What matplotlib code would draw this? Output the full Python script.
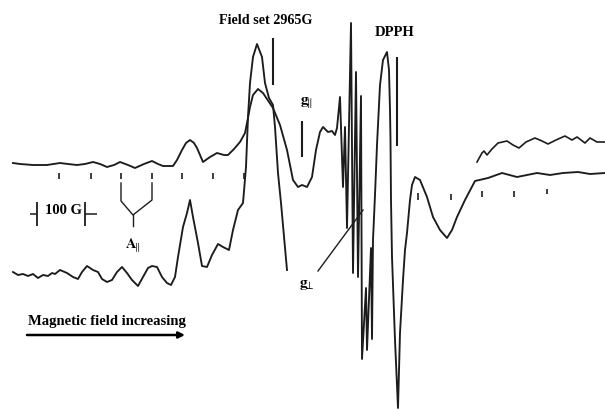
#!/usr/bin/env python3
"""EPR spectrum sketch: two gain traces with hyperfine markers."""
import matplotlib.pyplot as plt

plt.rcParams['font.family'] = 'Liberation Serif'
plt.rcParams['mathtext.fontset'] = 'stix'

INK = '#1c1c1c'

# Low gain trace, whole sweep
low_x = [13, 20, 33, 47, 60, 68, 77, 85, 93, 100, 107, 114, 120, 128, 135, 144, 152, 158, 163, 173,
         177, 182, 186, 190, 194, 197, 203, 210, 217, 224, 228, 234, 240, 245, 248, 250, 253, 258,
         263, 269, 273, 280, 287, 293, 298, 302, 307, 312, 316, 320, 323, 328, 332, 335, 337,
         340, 343, 345, 347, 351, 353, 356, 358, 361, 362, 366, 367, 371, 372, 373, 375, 377, 380, 383,
         387, 389, 390, 390.5, 391, 392, 395, 398, 400, 403, 405, 407, 410, 412, 415, 420, 427, 433, 440, 447, 452,
         457, 465, 475, 488, 502, 517, 537, 550, 563, 578, 590, 605]
low_y = [163, 164, 165, 165, 163, 164, 165, 164, 162, 164, 167, 165, 162, 165, 168, 164, 161, 164, 166, 166,
         160, 150, 143, 140, 143, 148, 162, 157, 153, 155, 155, 149, 142, 133, 118, 107, 95, 89,
         93, 102, 108, 125, 150, 180, 187, 185, 187, 177, 150, 132, 127, 132, 131, 135, 128,
         97, 187, 127, 228, 23, 273, 72, 277, 96, 359, 288, 350, 248, 339, 240, 195, 145, 85, 60,
         52, 70, 110, 140, 200, 257, 340, 408, 333, 280, 250, 233, 200, 185, 177, 180, 197, 217, 230, 238, 230,
         217, 200, 181, 178, 173, 177, 173, 175, 173, 172, 174, 173]

# High gain trace, low field side
high_x = [13, 18, 23, 28, 33, 38, 43, 48, 52, 55, 60, 67, 73, 78, 82, 87, 93, 98, 102, 107, 112, 117,
          122, 127, 132, 138, 143, 148, 152, 157, 162, 167, 171, 175, 178, 183, 187, 190, 193, 198,
          202, 207, 212, 218, 223, 229, 233, 238, 243, 246, 248, 250, 253, 257, 262, 265, 269, 273,
          275, 278, 281, 287]
high_y = [272, 275, 274, 276, 274, 278, 275, 276, 273, 274, 270, 273, 277, 279, 272, 266, 270, 272, 279, 282, 280, 272,
          267, 273, 280, 286, 277, 268, 266, 267, 277, 283, 285, 277, 257, 227, 213, 200, 217, 243,
          266, 267, 255, 244, 247, 250, 230, 210, 203, 167, 117, 83, 57, 44, 57, 83, 98, 105,
          127, 173, 203, 270]

# High gain trace, high field side
tail_x = [477, 482, 484, 487, 492, 498, 507, 513, 519, 526, 535, 542, 548, 556, 565, 572, 577, 585, 590, 597, 605]
tail_y = [162, 153, 151, 155, 149, 143, 141, 145, 148, 142, 138, 141, 144, 140, 136, 140, 137, 143, 138, 142, 142]

# Hyperfine markers under the traces
left_tick_x = [59, 91, 121, 152, 182, 213, 244]
right_tick_x = [418, 451, 482, 514, 547]
right_tick_top = [193, 194, 191, 191, 189]
right_tick_bottom = [200, 200, 197, 197, 194]

fig = plt.figure(figsize=(6.05, 4.09), dpi=100, facecolor='white')
ax = fig.add_axes([0, 0, 1, 1])
ax.set_xlim(0, 605)
ax.set_ylim(409, 0)
ax.axis('off')

ax.plot(low_x, low_y, color=INK, lw=1.35)
ax.plot(high_x, high_y, color=INK, lw=1.35)
ax.plot(tail_x, tail_y, color=INK, lw=1.2)

ax.vlines(left_tick_x, 173, 179, color=INK, lw=1.2)
ax.vlines(right_tick_x, right_tick_top, right_tick_bottom, color=INK, lw=1.2)

# Marker bars
ax.vlines([273, 302, 397], [38, 121, 57], [85, 157, 146], color=INK, lw=1.5)

# 100 G scale
ax.vlines([37, 85], 202, 226, color=INK, lw=1.3)
ax.hlines([214, 214], [30, 85], [37, 97], color=INK, lw=1.1)

# A parallel fork
ax.plot([121, 121, 133, 152, 152], [183, 201, 215, 200, 183], color=INK, lw=1.0)
ax.plot([133, 133], [215, 226], color=INK, lw=1.0)

# g perp pointer
ax.plot([318, 363], [271, 210], color=INK, lw=1.0)

# Field direction arrow
ax.annotate('', xy=(185, 335), xytext=(27, 335),
            arrowprops=dict(arrowstyle='-|>', color='black', lw=1.8, mutation_scale=9,
                            shrinkA=0, shrinkB=0))

bold = dict(fontweight='bold', color='black', va='center')
ax.text(312, 21, 'Field set 2965G', fontsize=10.2, ha='right', **bold)
ax.text(375, 33, 'DPPH', fontsize=10.5, ha='left', **bold)
ax.text(45, 211, '100 G', fontsize=10.5, ha='left', **bold)
ax.text(28, 322, 'Magnetic field increasing', fontsize=10.5, ha='left', **bold)
ax.text(125, 245, r'$\mathbf{A}_{\!\!\parallel}$', fontsize=10.5, ha='left', **bold)
ax.text(300, 103, r'$\mathbf{g}_{\!\!\parallel}$', fontsize=11, ha='left', **bold)
ax.text(299, 285, r'$\mathbf{g}_{\!\!\perp}$', fontsize=11, ha='left', **bold)

fig.savefig('out.png', dpi=100, facecolor='white')
plt.close(fig)
